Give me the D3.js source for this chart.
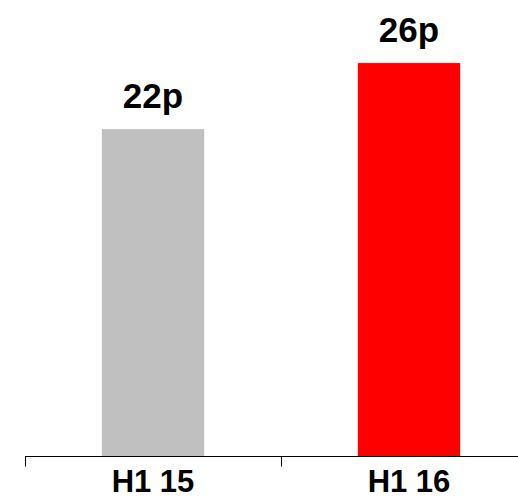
<!DOCTYPE html>
<html><head><meta charset="utf-8">
<script src="https://cdn.jsdelivr.net/npm/d3@7"></script>
<style>html,body{margin:0;padding:0;background:#fff;}svg{display:block;}</style>
</head><body>
<svg id="chart" width="518" height="499"></svg>
<script>
const categories = ["H1 15", "H1 16"];
const values = [21.8, 26.2];
const valueLabels = ["22p", "26p"];
const colors = ["#C0C0C0", "#FF0000"];

const svg = d3.select("#chart");
const baseY = 456.5;
const x = d3.scaleBand().domain(categories).range([25, 537]).paddingInner(0.6).paddingOuter(0.3);
const y = d3.scaleLinear().domain([0, 30.4]).range([baseY, 0]);

svg.selectAll("rect.bar").data(values).join("rect")
  .attr("class", "bar")
  .attr("x", (d, i) => x(categories[i]))
  .attr("width", x.bandwidth())
  .attr("y", d => y(d))
  .attr("height", d => baseY - y(d))
  .attr("fill", (d, i) => colors[i]);

svg.selectAll("text.val").data(values).join("text")
  .attr("class", "val")
  .attr("x", (d, i) => x(categories[i]) + x.bandwidth() / 2)
  .attr("y", d => y(d) - 21)
  .attr("text-anchor", "middle")
  .attr("font-family", "Liberation Sans, Arial, sans-serif")
  .attr("font-weight", "bold")
  .attr("font-size", 35)
  .attr("fill", "#000")
  .text((d, i) => valueLabels[i]);

// axis line and ticks at band boundaries
const step = x.step();
const bounds = [25, 25 + step, 25 + 2 * step];
const g = svg.append("g");
g.append("line").attr("x1", 25).attr("x2", 537).attr("y1", baseY).attr("y2", baseY)
  .attr("stroke", "#000").attr("stroke-width", 1);
g.selectAll("line.tick").data(bounds).join("line")
  .attr("class", "tick")
  .attr("x1", d => Math.round(d) + 0.5).attr("x2", d => Math.round(d) + 0.5)
  .attr("y1", baseY).attr("y2", baseY + 10)
  .attr("stroke", "#000").attr("stroke-width", 1);

svg.selectAll("text.cat").data(categories).join("text")
  .attr("class", "cat")
  .attr("x", d => x(d) + x.bandwidth() / 2)
  .attr("y", 492)
  .attr("text-anchor", "middle")
  .attr("font-family", "Liberation Sans, Arial, sans-serif")
  .attr("font-weight", "bold")
  .attr("font-size", 31)
  .attr("fill", "#000")
  .text(d => d);
</script>
</body></html>
